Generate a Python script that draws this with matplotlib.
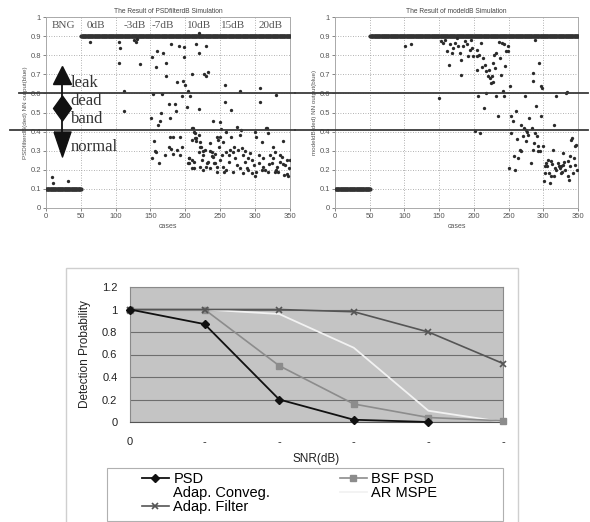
import numpy as np
import matplotlib
matplotlib.use("Agg")
import matplotlib.pyplot as plt
from matplotlib.lines import Line2D
from matplotlib.patches import Rectangle

# ---------------- data ----------------
cases_all = np.arange(1, 351)
bng_end = 50                      # cases 1..50 are BNG (normal, output 0.1)
normal_level = 0.1
leak_level = 0.9
thresholds = [0.6, 0.41]

seg_labels = ["BNG", "0dB", "-3dB", "-7dB", "10dB", "15dB", "20dB"]
seg_centers = [25, 72, 128, 168, 219, 269, 322]

# PSDfilterdB simulation: outputs that differ from the nominal level
psd_pts = [
    (9, 0.16), (10, 0.13), (32, 0.14),
    (64, 0.87),
    (105, 0.87), (107, 0.84), (127, 0.88), (129, 0.87), (131, 0.885), (105, 0.76),
    (135, 0.755), (112, 0.61), (112, 0.51),
    (152, 0.79), (159, 0.82), (168, 0.81), (158, 0.74), (172, 0.76), (173, 0.69),
    (180, 0.86), (191, 0.85), (198, 0.845), (198, 0.79), (188, 0.66), (196, 0.665),
    (199, 0.645), (154, 0.595), (167, 0.595), (195, 0.585), (151, 0.47), (165, 0.5),
    (164, 0.455), (161, 0.435), (178, 0.47), (176, 0.545), (185, 0.545), (187, 0.51),
    (155, 0.35), (157, 0.30), (158, 0.295), (153, 0.26), (163, 0.235), (171, 0.275),
    (176, 0.32), (178, 0.37), (183, 0.37), (180, 0.31), (183, 0.285), (188, 0.305),
    (193, 0.37), (195, 0.32), (193, 0.275),
    (204, 0.61), (207, 0.585), (202, 0.53), (215, 0.86), (220, 0.915), (219, 0.81),
    (209, 0.70), (227, 0.70), (229, 0.69), (232, 0.71), (229, 0.85), (219, 0.52),
    (240, 0.455), (249, 0.452), (257, 0.645), (266, 0.513), (257, 0.555), (279, 0.613),
    (307, 0.63), (307, 0.556), (330, 0.59), (274, 0.426), (278, 0.382),
    (211, 0.417), (214, 0.391), (216, 0.365), (210, 0.356), (221, 0.347), (223, 0.321),
    (220, 0.295), (228, 0.304), (226, 0.277), (235, 0.339), (238, 0.295), (240, 0.269),
    (233, 0.243), (243, 0.234), (245, 0.373), (247, 0.356), (250, 0.251), (252, 0.277),
    (254, 0.347), (259, 0.295), (262, 0.243), (264, 0.304), (266, 0.373), (269, 0.295),
    (271, 0.26), (274, 0.225), (276, 0.304), (281, 0.312), (283, 0.277), (286, 0.243),
    (288, 0.208), (290, 0.26), (293, 0.286), (295, 0.181), (298, 0.225), (302, 0.373),
    (305, 0.234), (310, 0.347), (312, 0.26), (314, 0.199), (317, 0.417), (319, 0.391),
    (322, 0.277), (324, 0.234), (326, 0.321), (329, 0.295), (331, 0.216), (333, 0.19),
    (336, 0.243), (338, 0.269), (341, 0.173), (343, 0.225), (345, 0.251), (348, 0.208),
    (206, 0.26), (204, 0.234), (209, 0.208), (212, 0.243), (221, 0.216), (225, 0.199),
    (235, 0.208), (245, 0.19), (254, 0.216), (259, 0.199), (268, 0.19), (278, 0.208),
    (283, 0.181), (302, 0.19), (312, 0.216), (319, 0.19), (329, 0.19),
    (205, 0.26), (209, 0.25), (206, 0.235), (212, 0.21), (209, 0.42), (213, 0.40),
    (219, 0.38), (214, 0.365), (216, 0.35), (221, 0.32), (226, 0.30), (224, 0.25),
    (231, 0.235), (229, 0.215), (236, 0.30), (238, 0.27), (241, 0.235), (243, 0.285),
    (245, 0.215), (248, 0.32), (249, 0.37), (251, 0.415),
    (259, 0.40), (280, 0.41), (300, 0.40), (315, 0.42), (340, 0.35), (350, 0.25),
    (345, 0.18), (335, 0.28), (325, 0.26), (305, 0.28), (295, 0.25), (285, 0.3),
    (270, 0.32), (262, 0.28), (255, 0.19), (290, 0.2), (300, 0.17), (310, 0.2),
    (320, 0.23), (330, 0.2), (340, 0.23), (347, 0.17),
]
psd_x = [p[0] for p in psd_pts]
psd_y = [p[1] for p in psd_pts]

# modeldB simulation: outputs that differ from the nominal level
mdl_pts = [
    (101, 0.85), (110, 0.86), (150, 0.576),
    (153, 0.872), (156, 0.864), (161, 0.82), (164, 0.75), (168, 0.81), (172.6, 0.864),
    (175, 0.89), (177, 0.846), (180, 0.81), (182, 0.777), (181, 0.698), (187, 0.872),
    (192, 0.794), (194, 0.829), (196.5, 0.88), (199, 0.794), (204, 0.829), (205, 0.794),
    (204, 0.724), (206, 0.585), (201, 0.401), (209.5, 0.393), (211, 0.864), (213, 0.785),
    (215.7, 0.75), (214, 0.524), (216.8, 0.602), (218, 0.716), (220, 0.689), (223, 0.68),
    (224, 0.654), (226, 0.689), (227.7, 0.759), (229, 0.803), (231, 0.733), (232.5, 0.811),
    (235, 0.48), (232.5, 0.585), (237, 0.785), (239, 0.698), (241, 0.864), (242, 0.611),
    (243.5, 0.588), (245, 0.742), (247, 0.82), (249, 0.82), (249, 0.846), (251.7, 0.637),
    (253, 0.393), (250, 0.209), (254, 0.48), (256.5, 0.454), (258, 0.27), (259, 0.2),
    (261, 0.506), (263.7, 0.262), (266, 0.305), (268.5, 0.436), (271, 0.375), (272, 0.419),
    (273, 0.585), (274.7, 0.41), (275.7, 0.35), (278, 0.384), (280, 0.471), (282, 0.236),
    (284, 0.419), (285, 0.305), (285, 0.707), (285, 0.663), (287.6, 0.881), (288.6, 0.393),
    (290, 0.532), (291.5, 0.375), (292, 0.323), (293, 0.297), (294, 0.759), (297, 0.48),
    (297, 0.637), (298, 0.628), (299.6, 0.323), (301, 0.14), (302, 0.218), (303, 0.183),
    (304, 0.236), (307, 0.253), (308, 0.183), (309, 0.131), (310.6, 0.244), (311.6, 0.166),
    (314, 0.305), (315, 0.166), (316.4, 0.209), (319, 0.585), (321, 0.236), (323.6, 0.209),
    (325, 0.218), (326, 0.183), (328, 0.288), (329, 0.227), (331.7, 0.2), (333, 0.602),
    (334.6, 0.605), (335.6, 0.244), (337, 0.148), (338, 0.218), (339, 0.27), (340, 0.358),
    (341, 0.366), (343, 0.183), (344, 0.262), (345, 0.227), (346, 0.323), (347.6, 0.332),
    (349, 0.2), (316, 0.436),
    (158, 0.88), (166, 0.86), (170, 0.84), (184, 0.85), (190, 0.86), (198, 0.84),
    (208, 0.80), (212, 0.74), (222, 0.72), (228, 0.66), (236, 0.87), (244, 0.86),
    (262, 0.36), (268, 0.30), (276, 0.40), (286, 0.34), (295, 0.30), (306, 0.22),
    (313, 0.23), (318, 0.20), (322, 0.22), (327, 0.19), (330, 0.24), (336, 0.17),
]
mdl_x = [p[0] for p in mdl_pts]
mdl_y = [p[1] for p in mdl_pts]

# Detection probability chart
snr_labels = ["0", "-", "-", "-", "-", "-"]
psd_det = [1.0, 0.87, 0.20, 0.02, 0.0, np.nan]
bsf_det = [1.0, 1.0, 0.50, 0.16, 0.04, 0.01]
adapf_det = [1.0, 1.0, 1.0, 0.98, 0.80, 0.52]
ar_det = [1.0, 1.0, 0.96, 0.66, 0.10, 0.0]
det_yticks = [0, 0.2, 0.4, 0.6, 0.8, 1.0, 1.2]
det_ylabels = ["0", "0.2", "0.4", "0.6", "0.8", "1", "1.2"]

# ---------------- figure ----------------
W, H = 590, 522
fig = plt.figure(figsize=(W / 100, H / 100), dpi=100)
fig.patch.set_facecolor("white")


def fr(l, t, r, b):
    return [l / W, 1 - b / H, (r - l) / W, (b - t) / H]


ax1 = fig.add_axes(fr(45.7, 17, 290, 208))
ax2 = fig.add_axes(fr(335, 17, 578, 208))
ax3 = fig.add_axes(fr(130, 287, 503, 422))

dot = "#2a2a2a"
sans = "Liberation Sans"
serif = "Liberation Serif"

for ax, xs, ys, title, ylab in [
    (ax1, psd_x, psd_y, "The Result of PSDfilterdB Simulation", "PSDfilterdB(ded) NN output(blue)"),
    (ax2, mdl_x, mdl_y, "The Result of modeldB Simulation", "modeldB(ded) NN output(blue)"),
]:
    base_x = cases_all
    base_y = np.where(cases_all <= bng_end, normal_level, leak_level)
    ax.plot(base_x, base_y, "o", ms=3.0, color="#333333", mec="none", zorder=3)
    ax.plot(xs, ys, "o", ms=2.4, color=dot, mec="none", zorder=3)
    ax.set_xlim(0, 350)
    ax.set_ylim(0, 1)
    ax.set_xticks(range(0, 351, 50))
    ax.set_yticks(np.arange(0, 1.01, 0.1))
    ax.set_yticklabels(["0", "0.1", "0.2", "0.3", "0.4", "0.5", "0.6", "0.7", "0.8", "0.9", "1"])
    ax.tick_params(labelsize=5.5, length=2, width=0.5, colors="#555555", pad=1.5)
    for lab in ax.get_xticklabels() + ax.get_yticklabels():
        lab.set_fontfamily(sans)
    ax.grid(True, linestyle=(0, (1, 2)), color="#999999", linewidth=0.6)
    for s in ax.spines.values():
        s.set_color("#aaaaaa")
        s.set_linewidth(0.7)
    ax.set_title(title, fontsize=4.8, color="#444444", pad=3, family=sans)
    ax.set_xlabel("cases", fontsize=5, color="#555555", labelpad=2, family=sans)
    ax.set_ylabel(ylab, fontsize=4.5, color="#555555", labelpad=2, family=sans)

# threshold lines extending beyond the axes
for y, xmin in zip(thresholds, [-0.109, -0.146]):
    ax1.axhline(y, xmin=xmin, xmax=1.02, color="#3a3a3a", lw=1.3, clip_on=False, zorder=4)
for y in thresholds:
    ax2.axhline(y, xmin=-0.165, xmax=1.04, color="#3a3a3a", lw=1.3, clip_on=False, zorder=4)

# segment labels in the left plot
for lab, cx in zip(seg_labels, seg_centers):
    ax1.text(cx, 0.955, lab, ha="center", va="center", fontsize=8, family=serif, color="#555555")

# leak / dead band / normal arrow
arrow_x = 24
ax1.plot([arrow_x, arrow_x], [0.67, 0.34], color="#111111", lw=1.3, zorder=5)
ax1.plot([arrow_x], [0.698], marker="^", ms=12.5, color="#111111", zorder=6)
ax1.plot([arrow_x], [0.525], marker=[(0, 1), (0.72, 0), (0, -1), (-0.72, 0), (0, 1)],
         ms=18, color="#111111", zorder=6)
ax1.plot([arrow_x], [0.335], marker=[(-0.68, 1), (0.68, 1), (0, -1), (-0.68, 1)],
         ms=18, color="#111111", zorder=6)
for txt, ty in [("leak", 0.655), ("dead", 0.562), ("band", 0.468), ("normal", 0.318)]:
    ax1.text(36, ty, txt, ha="left", va="center", fontsize=12, family=serif, color="#333333", zorder=6)

# ---------------- detection probability chart ----------------
fig.patches.append(Rectangle((66 / W, -0.02), (518 - 66) / W, 1 - 268 / H + 0.02,
                             transform=fig.transFigure, fill=False,
                             edgecolor="#cfcfcf", lw=1.0, zorder=-2))

x = np.arange(len(snr_labels))
ax3.set_facecolor("#c4c4c4")
ax3.set_xlim(0, 5)
ax3.set_ylim(0, 1.2)
ax3.set_yticks(det_yticks)
ax3.set_yticklabels(det_ylabels)
ax3.set_xticks(x)
ax3.set_xticklabels(snr_labels)
ax3.yaxis.grid(True, color="#6e6e6e", lw=0.8)
ax3.set_axisbelow(True)
ax3.tick_params(length=0, labelsize=8, colors="#222222")
ax3.tick_params(axis="y", pad=9)
ax3.tick_params(axis="x", pad=11)
for lab in ax3.get_xticklabels() + ax3.get_yticklabels():
    lab.set_fontfamily(sans)
for s in ax3.spines.values():
    s.set_color("#8a8a8a")
    s.set_linewidth(0.8)
ax3.spines["bottom"].set_color("#555555")

l_ar, = ax3.plot(x, ar_det, color="#f2f2f2", lw=1.3, label="AR MSPE", zorder=3)
l_bsf, = ax3.plot(x, bsf_det, color="#8c8c8c", lw=1.2, marker="s", ms=4,
                  label="BSF PSD", clip_on=False, zorder=4)
l_af, = ax3.plot(x, adapf_det, color="#555555", lw=1.2, marker="x", ms=5, mew=1.2,
                 label="Adap. Filter", clip_on=False, zorder=5)
l_psd, = ax3.plot(x, psd_det, color="#111111", lw=1.3, marker="D", ms=3.8,
                  label="PSD", clip_on=False, zorder=6)
l_conv = Line2D([], [], color="none", label="Adap. Conveg.")

ax3.set_xlabel("SNR(dB)", fontsize=8.5, family=sans, color="#222222", labelpad=4)
ax3.set_ylabel("Detection Probability", fontsize=8.5, family=sans, color="#222222", labelpad=8)

# legend frame (behind) and contents
fig.patches.append(Rectangle((107 / W, 1 - 521 / H), (503 - 107) / W, (521 - 468) / H,
                             transform=fig.transFigure, facecolor="white",
                             edgecolor="#b0b0b0", lw=0.8, zorder=-1))
c_left, c_right, c_top = 142, 437, 472
leg = ax3.legend([l_psd, l_conv, l_af, l_bsf, l_ar],
                 ["PSD", "Adap. Conveg.", "Adap. Filter", "BSF PSD", "AR MSPE"],
                 ncol=2, loc="upper left",
                 bbox_to_anchor=(c_left / W, 1 - 521 / H, (c_right - c_left) / W, (521 - c_top) / H),
                 bbox_transform=fig.transFigure, mode="expand", borderaxespad=0,
                 labelspacing=0.0, handlelength=1.85, handletextpad=0.3,
                 borderpad=0.0, frameon=False,
                 prop={"family": sans, "size": 10.5})

fig.savefig("out.png", dpi=100, facecolor="white")
